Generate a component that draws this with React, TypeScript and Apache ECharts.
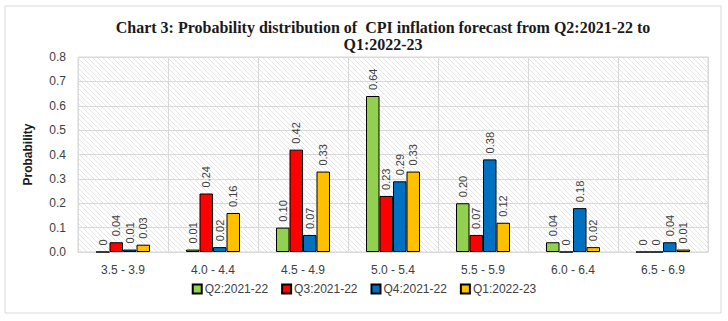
import React, { useEffect, useRef } from "react";
import * as echarts from "echarts";

const categories = ["3.5 - 3.9", "4.0 - 4.4", "4.5 - 4.9", "5.0 - 5.4", "5.5 - 5.9", "6.0 - 6.4", "6.5 - 6.9"];
const seriesNames = ["Q2:2021-22", "Q3:2021-22", "Q4:2021-22", "Q1:2022-23"];
const q2_2021 = [0, 0.01, 0.1, 0.64, 0.2, 0.04, 0];
const q3_2021 = [0.04, 0.24, 0.42, 0.23, 0.07, 0, 0];
const q4_2021 = [0.01, 0.02, 0.07, 0.29, 0.38, 0.18, 0.04];
const q1_2022 = [0.03, 0.16, 0.33, 0.33, 0.12, 0.02, 0.01];
const colors = ["#92d050", "#ff0000", "#0070c0", "#ffc000"];

function makeHatch() {
  const c = document.createElement("canvas");
  c.width = 5;
  c.height = 5;
  const ctx = c.getContext("2d")!;
  ctx.fillStyle = "#ffffff";
  ctx.fillRect(0, 0, 5, 5);
  ctx.strokeStyle = "#e6e6e6";
  ctx.lineWidth = 1;
  ctx.beginPath();
  ctx.moveTo(-1, -1);
  ctx.lineTo(6, 6);
  ctx.moveTo(-1, 4);
  ctx.lineTo(1, 6);
  ctx.moveTo(4, -1);
  ctx.lineTo(6, 1);
  ctx.stroke();
  return c;
}

export default function App() {
  const ref = useRef<HTMLDivElement>(null);
  useEffect(() => {
    if (!ref.current) return;
    const chart = echarts.init(ref.current, null, { renderer: "svg" });
    const data = [q2_2021, q3_2021, q4_2021, q1_2022];
    const font = "Liberation Sans";
    chart.setOption({
      animation: false,
      backgroundColor: "#ffffff",
      title: {
        text: "Chart 3: Probability distribution of  CPI inflation forecast from Q2:2021-22 to\nQ1:2022-23",
        left: 378,
        top: 14,
        textAlign: "center",
        textStyle: {
          fontFamily: "Liberation Serif",
          fontWeight: "bold",
          fontSize: 16,
          color: "#1a1a1a",
          lineHeight: 17,
        },
      },
      graphic: [
        {
          type: "rect",
          shape: { x: 5, y: 6, width: 716, height: 307 },
          style: { fill: "none", stroke: "#d9d9d9", lineWidth: 1 },
          silent: true,
        },
        {
          type: "rect",
          shape: { x: 78, y: 57, width: 630, height: 195 },
          style: { fill: { image: makeHatch(), repeat: "repeat" } as any, stroke: "#d9d9d9" },
          z: -10,
          silent: true,
        },
      ],
      legend: {
        data: seriesNames,
        bottom: 21,
        left: "center",
        itemWidth: 9,
        itemHeight: 9,
        itemGap: 13,
        textStyle: { fontFamily: font, fontSize: 12, color: "#404040", padding: [0, 0, 0, -2] },
        icon: "rect",
      },
      grid: { left: 78, right: 20, top: 57, bottom: 69 },
      xAxis: {
        type: "category",
        data: categories,
        axisLine: { lineStyle: { color: "#d9d9d9" } },
        axisTick: { show: false },
        axisLabel: { fontFamily: font, fontSize: 12, color: "#404040", margin: 12 },
        splitLine: { show: true, lineStyle: { color: "#d9d9d9" } },
      },
      yAxis: {
        type: "value",
        min: 0,
        max: 0.8,
        interval: 0.1,
        name: "Probability",
        nameLocation: "middle",
        nameGap: 44,
        nameTextStyle: { fontFamily: font, fontWeight: "bold", fontSize: 12, color: "#1a1a1a" },
        axisLabel: {
          fontFamily: font,
          fontSize: 12,
          color: "#404040",
          margin: 12,
          formatter: (v: number) => v.toFixed(1),
        },
        splitLine: { lineStyle: { color: "#d9d9d9" } },
      },
      series: seriesNames.map((name, i) => ({
        name,
        type: "bar",
        data: data[i],
        barGap: "0%",
        barCategoryGap: "40%",
        itemStyle: { color: colors[i], borderColor: "#000000", borderWidth: 1 },
        label: {
          show: true,
          position: "top",
          rotate: 90,
          align: "left",
          verticalAlign: "middle",
          distance: 6,
          fontFamily: font,
          fontSize: 11,
          color: "#404040",
          formatter: (p: any) => (p.value === 0 ? "0" : Number(p.value).toFixed(2)),
        },
      })),
    });
    return () => chart.dispose();
  }, []);
  return <div ref={ref} style={{ width: 728, height: 321, position: "absolute", left: 0, top: 0 }} />;
}
